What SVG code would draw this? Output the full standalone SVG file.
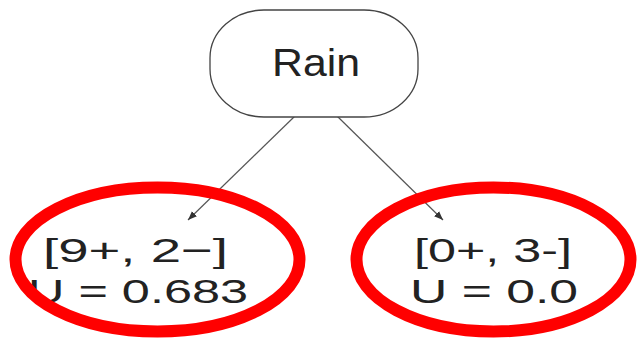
<svg xmlns="http://www.w3.org/2000/svg" width="640" height="347" viewBox="0 0 640 347">
<defs>
<marker id="arr" viewBox="0 0 10 10" refX="10" refY="5" markerWidth="9" markerHeight="9" markerUnits="userSpaceOnUse" orient="auto">
<path d="M0,1 L10,5 L0,9 Z" fill="#333"/>
</marker>
<style>
.t{font-family:"Liberation Sans",Arial,sans-serif;fill:#222;}
.edge{stroke:#555;stroke-width:1.2;fill:none;}
.hl{fill:none;stroke:#ff0000;stroke-width:12;}
</style>
</defs>
<rect width="640" height="347" fill="#fff"/>
<g id="connectors">
<line class="edge" x1="295" y1="116" x2="188" y2="220" marker-end="url(#arr)"/>
<line class="edge" x1="337" y1="116" x2="443" y2="220" marker-end="url(#arr)"/>
</g>
<g id="rain">
<rect x="210" y="10" width="208" height="107" rx="54" ry="48" fill="#fff" stroke="#444" stroke-width="1.3"/>
<text class="t" x="272" y="76" font-size="38" textLength="88" lengthAdjust="spacingAndGlyphs">Rain</text>
</g>
<g id="left">
<text class="t" x="43" y="262" font-size="34" textLength="185" lengthAdjust="spacingAndGlyphs">[9+, 2−]</text>
<text class="t" x="28" y="303" font-size="34" textLength="220" lengthAdjust="spacingAndGlyphs">U = 0.683</text>
<ellipse class="hl" cx="157.5" cy="259.5" rx="142" ry="72"/>
</g>
<g id="right">
<text class="t" x="414" y="262" font-size="34" textLength="158" lengthAdjust="spacingAndGlyphs">[0+, 3-]</text>
<text class="t" x="410" y="303" font-size="34" textLength="168" lengthAdjust="spacingAndGlyphs">U = 0.0</text>
<ellipse class="hl" cx="493.5" cy="259.5" rx="137" ry="72"/>
</g>
</svg>
